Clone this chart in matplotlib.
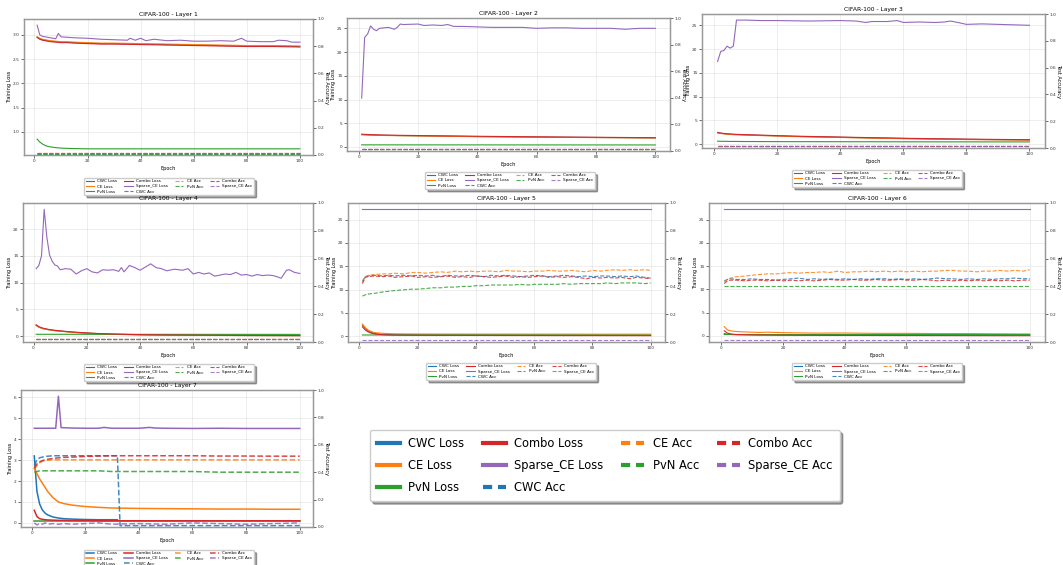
import matplotlib.pyplot as plt
from matplotlib.lines import Line2D

plt.rcParams['font.family'] = ['Liberation Sans Narrow', 'DejaVu Sans']

methods = ['CWC', 'CE', 'PvN', 'Combo', 'Sparse_CE']
colors = ['tab:blue', 'tab:orange', 'tab:green', 'tab:red', 'tab:purple']

ep = [1, 2, 3, 4, 5, 6, 8, 10, 12, 15, 20, 25, 30, 40, 50, 60, 70, 80, 90, 100]
ep_ends = [1, 100]
ep_acc = [1, 2, 3, 5, 8, 10, 12, 15, 18, 20, 23, 25, 28, 30, 33, 35, 38, 40, 43, 45, 48,
          50, 53, 55, 58, 60, 63, 65, 68, 70, 73, 75, 78, 80, 83, 85, 88, 90, 93, 95, 98, 100]

#%% Layer 1
l1_cwc_loss = [2.95, 2.92, 2.90, 2.89, 2.88, 2.87, 2.86, 2.85, 2.85, 2.84, 2.83, 2.82, 2.82, 2.81, 2.80, 2.79, 2.78, 2.77, 2.77, 2.76]
l1_ce_loss = [2.96, 2.93, 2.91, 2.90, 2.89, 2.88, 2.87, 2.86, 2.86, 2.85, 2.84, 2.83, 2.83, 2.82, 2.81, 2.80, 2.79, 2.78, 2.78, 2.77]
l1_pvn_loss = [0.85, 0.79, 0.75, 0.72, 0.70, 0.69, 0.675, 0.665, 0.66, 0.655, 0.65, 0.65, 0.65, 0.65, 0.65, 0.65, 0.65, 0.65, 0.65, 0.65]
l1_combo_loss = [2.95, 2.91, 2.89, 2.88, 2.87, 2.86, 2.85, 2.84, 2.84, 2.83, 2.82, 2.81, 2.81, 2.80, 2.79, 2.78, 2.77, 2.76, 2.76, 2.75]
l1_sparse_ep = [1, 2, 3, 5, 7, 8, 9, 10, 15, 20, 25, 30, 35, 36, 38, 40, 42, 45, 50, 55, 60, 65, 70, 75, 78, 80, 85, 90, 92, 95, 97, 100]
l1_sparse_loss = [3.20, 3.00, 2.97, 2.95, 2.93, 2.92, 3.03, 2.96, 2.94, 2.93, 2.91, 2.90, 2.89, 2.93, 2.89, 2.93, 2.88, 2.91, 2.88, 2.89,
                  2.87, 2.87, 2.88, 2.87, 2.93, 2.87, 2.86, 2.86, 2.89, 2.88, 2.85, 2.85]
l1_acc_levels = [0.010, 0.012, 0.011, 0.014, 0.012]

#%% Layer 2
l2_cwc_loss = [2.62, 2.58, 2.55, 2.53, 2.51, 2.49, 2.46, 2.44, 2.42, 2.39, 2.35, 2.31, 2.27, 2.20, 2.14, 2.09, 2.04, 2.00, 1.96, 1.92]
l2_ce_loss = [2.60, 2.56, 2.53, 2.51, 2.49, 2.47, 2.44, 2.42, 2.40, 2.37, 2.33, 2.29, 2.25, 2.18, 2.12, 2.07, 2.02, 1.98, 1.94, 1.90]
l2_pvn_loss = [0.45, 0.43]
l2_combo_loss = [2.70, 2.66, 2.63, 2.60, 2.58, 2.56, 2.53, 2.50, 2.48, 2.45, 2.41, 2.37, 2.33, 2.26, 2.20, 2.14, 2.09, 2.05, 2.00, 1.96]
l2_sparse_ep = [1, 2, 3, 4, 5, 6, 7, 10, 12, 13, 14, 15, 20, 22, 25, 28, 30, 32, 35, 40, 45, 50, 55, 60, 65, 70, 75, 80, 85, 90, 92, 95, 100]
l2_sparse_loss = [10.3, 23.1, 23.8, 25.5, 24.8, 24.5, 25.0, 25.2, 24.8, 25.2, 25.9, 25.8, 25.9, 25.6, 25.7, 25.6, 25.8, 25.4, 25.4, 25.3,
                  25.2, 25.2, 25.2, 25.0, 25.1, 25.1, 25.0, 25.0, 25.0, 24.8, 24.9, 25.0, 25.0]
l2_acc_levels = [0.012, 0.015, 0.013, 0.016, 0.014]

#%% Layer 3
l3_cwc_loss = [2.40, 2.27, 2.18, 2.12, 2.07, 2.02, 1.97, 1.92, 1.88, 1.82, 1.72, 1.62, 1.55, 1.42, 1.29, 1.17, 1.07, 0.99, 0.92, 0.87]
l3_ce_loss = [2.35, 2.22, 2.14, 2.08, 2.03, 1.98, 1.93, 1.88, 1.84, 1.78, 1.68, 1.58, 1.51, 1.38, 1.25, 1.13, 1.03, 0.95, 0.88, 0.83]
l3_pvn_loss = [0.60, 0.58, 0.57, 0.56, 0.55, 0.55, 0.54, 0.53, 0.53, 0.52, 0.51, 0.50, 0.50, 0.49, 0.48, 0.47, 0.46, 0.46, 0.45, 0.45]
l3_combo_loss = [2.45, 2.32, 2.23, 2.17, 2.12, 2.07, 2.02, 1.97, 1.93, 1.87, 1.77, 1.67, 1.60, 1.47, 1.34, 1.22, 1.12, 1.04, 0.97, 0.92]
l3_sparse_ep = [1, 2, 3, 4, 5, 6, 7, 10, 15, 20, 30, 40, 45, 48, 50, 55, 58, 60, 65, 70, 73, 75, 78, 80, 85, 90, 95, 100]
l3_sparse_loss = [17.4, 19.5, 19.7, 20.6, 20.2, 20.6, 26.1, 26.1, 26.0, 26.0, 25.9, 26.0, 25.9, 25.6, 25.8, 25.8, 26.0, 25.6, 25.7, 25.6,
                  25.7, 25.9, 25.5, 25.2, 25.3, 25.2, 25.1, 25.0]
l3_acc_levels = [0.012, 0.014, 0.012, 0.015, 0.013]

#%% Layer 4
l4_cwc_loss = [2.00, 1.68, 1.48, 1.35, 1.25, 1.16, 1.02, 0.92, 0.83, 0.70, 0.54, 0.42, 0.33, 0.23, 0.17, 0.13, 0.11, 0.09, 0.08, 0.07]
l4_ce_loss = [1.95, 1.64, 1.45, 1.32, 1.22, 1.13, 0.99, 0.89, 0.80, 0.67, 0.51, 0.39, 0.31, 0.21, 0.15, 0.12, 0.10, 0.08, 0.07, 0.06]
l4_pvn_loss = [0.32, 0.30]
l4_combo_loss = [2.10, 1.75, 1.55, 1.41, 1.30, 1.21, 1.07, 0.96, 0.87, 0.74, 0.58, 0.45, 0.36, 0.25, 0.19, 0.15, 0.12, 0.10, 0.09, 0.08]
l4_sparse_ep = [1, 2, 3, 4, 5, 6, 7, 8, 9, 10, 12, 14, 16, 18, 20, 22, 24, 26, 28, 30, 32, 33, 34, 36, 38, 40, 42, 44, 46, 48,
                50, 53, 56, 58, 60, 62, 64, 66, 68, 70, 72, 74, 76, 78, 80, 82, 84, 86, 88, 90, 92, 93, 95, 96, 98, 100]
l4_sparse_loss = [12.6, 13.2, 15.0, 23.7, 18.5, 15.2, 14.0, 13.3, 13.1, 12.4, 12.6, 12.5, 11.6, 12.2, 12.6, 12.0, 11.8, 12.4, 12.3, 12.4,
                  12.1, 12.8, 12.0, 13.2, 12.8, 12.3, 12.9, 13.5, 12.8, 12.6, 12.2, 12.5, 12.3, 12.6, 11.6, 11.9, 11.6, 11.8, 11.2, 11.4,
                  11.6, 11.5, 11.9, 11.4, 11.5, 11.2, 11.5, 11.3, 11.4, 11.3, 11.0, 10.8, 12.3, 12.4, 11.9, 11.7]
l4_acc_levels = [0.018, 0.022, 0.020, 0.024, 0.021]

#%% Layer 5
l5_cwc_loss = [2.4, 1.6, 1.1, 0.8, 0.6, 0.5, 0.4, 0.35, 0.32, 0.30, 0.28, 0.27, 0.26, 0.25, 0.24, 0.23, 0.22, 0.21, 0.20, 0.20]
l5_ce_loss = [2.6, 1.8, 1.3, 1.0, 0.8, 0.7, 0.6, 0.55, 0.50, 0.48, 0.46, 0.45, 0.45, 0.44, 0.44, 0.43, 0.43, 0.42, 0.42, 0.42]
l5_pvn_loss = [0.25, 0.20]
l5_combo_loss = [2.0, 1.3, 0.9, 0.65, 0.5, 0.4, 0.3, 0.25, 0.22, 0.20, 0.18, 0.17, 0.16, 0.15, 0.14, 0.13, 0.12, 0.12, 0.11, 0.10]
l5_sparse_loss = [27.2, 27.2]
l5_cwc_acc = [0.44, 0.47, 0.475, 0.48, 0.475, 0.48, 0.475, 0.48, 0.475, 0.48, 0.475, 0.48, 0.47, 0.48, 0.475, 0.475, 0.48, 0.475, 0.47, 0.48, 0.475,
              0.48, 0.475, 0.47, 0.475, 0.48, 0.475, 0.47, 0.475, 0.48, 0.475, 0.47, 0.475, 0.47, 0.475, 0.475, 0.47, 0.475, 0.47, 0.475, 0.465, 0.46]
l5_ce_acc = [0.43, 0.47, 0.48, 0.485, 0.49, 0.49, 0.495, 0.49, 0.50, 0.50, 0.495, 0.50, 0.505, 0.50, 0.51, 0.505, 0.51, 0.505, 0.51, 0.51, 0.505,
             0.515, 0.51, 0.51, 0.505, 0.51, 0.51, 0.515, 0.51, 0.51, 0.515, 0.51, 0.505, 0.515, 0.51, 0.515, 0.52, 0.515, 0.52, 0.515, 0.52, 0.515]
l5_pvn_acc = [0.33, 0.34, 0.345, 0.35, 0.36, 0.365, 0.37, 0.375, 0.38, 0.38, 0.385, 0.39, 0.39, 0.395, 0.395, 0.40, 0.40, 0.405, 0.405, 0.41, 0.41,
              0.41, 0.41, 0.415, 0.41, 0.415, 0.415, 0.415, 0.415, 0.42, 0.415, 0.42, 0.42, 0.42, 0.42, 0.425, 0.42, 0.425, 0.425, 0.425, 0.42, 0.425]
l5_combo_acc = [0.42, 0.465, 0.47, 0.475, 0.47, 0.475, 0.465, 0.47, 0.475, 0.465, 0.47, 0.465, 0.47, 0.475, 0.465, 0.47, 0.465, 0.475, 0.47, 0.465, 0.47,
                0.475, 0.465, 0.47, 0.465, 0.47, 0.475, 0.465, 0.47, 0.465, 0.47, 0.465, 0.455, 0.465, 0.46, 0.465, 0.46, 0.465, 0.455, 0.465, 0.46, 0.455]
l5_sparse_acc = [0.015, 0.015]

#%% Layer 6
l6_cwc_loss = [0.5, 0.35, 0.30, 0.28, 0.26, 0.25, 0.24, 0.23, 0.22, 0.22, 0.21, 0.21, 0.20, 0.20, 0.20, 0.20, 0.20, 0.20, 0.20, 0.20]
l6_ce_loss = [2.0, 1.3, 1.1, 1.0, 0.95, 0.9, 0.85, 0.8, 0.75, 0.8, 0.7, 0.65, 0.6, 0.62, 0.55, 0.55, 0.5, 0.5, 0.45, 0.42]
l6_pvn_loss = [0.30, 0.28]
l6_combo_loss = [1.1, 0.6, 0.45, 0.35, 0.30, 0.28, 0.25, 0.22, 0.20, 0.18, 0.15, 0.13, 0.12, 0.10, 0.09, 0.08, 0.07, 0.06, 0.05, 0.05]
l6_sparse_loss = [27.2, 27.2]
l6_cwc_acc = [0.44, 0.45, 0.455, 0.45, 0.45, 0.455, 0.45, 0.45, 0.445, 0.45, 0.455, 0.46, 0.45, 0.455, 0.45, 0.455, 0.45, 0.455, 0.45, 0.455, 0.45,
              0.455, 0.455, 0.45, 0.455, 0.45, 0.455, 0.45, 0.455, 0.46, 0.455, 0.455, 0.45, 0.455, 0.45, 0.455, 0.45, 0.455, 0.455, 0.46, 0.455, 0.455]
l6_ce_acc = [0.43, 0.45, 0.46, 0.47, 0.475, 0.48, 0.485, 0.49, 0.49, 0.495, 0.50, 0.495, 0.50, 0.50, 0.505, 0.50, 0.51, 0.50, 0.505, 0.505, 0.51,
             0.505, 0.51, 0.505, 0.51, 0.505, 0.51, 0.505, 0.51, 0.51, 0.515, 0.515, 0.51, 0.51, 0.505, 0.51, 0.51, 0.515, 0.51, 0.515, 0.51, 0.52]
l6_pvn_acc = [0.40, 0.40]
l6_combo_acc = [0.42, 0.44, 0.445, 0.445, 0.44, 0.445, 0.445, 0.44, 0.445, 0.44, 0.445, 0.44, 0.445, 0.44, 0.445, 0.45, 0.445, 0.445, 0.45, 0.445, 0.445,
                0.45, 0.445, 0.445, 0.45, 0.445, 0.445, 0.45, 0.445, 0.44, 0.445, 0.44, 0.445, 0.44, 0.445, 0.44, 0.445, 0.44, 0.445, 0.44, 0.445, 0.445]
l6_sparse_acc = [0.015, 0.015]

#%% Layer 7
l7_cwc_ep = [1, 2, 3, 4, 5, 6, 8, 10, 12, 15, 20, 25, 30, 32]
l7_cwc_loss = [3.2, 1.5, 0.9, 0.62, 0.47, 0.38, 0.28, 0.23, 0.20, 0.18, 0.16, 0.15, 0.15, 0.15]
l7_ce_loss = [2.6, 2.35, 2.1, 1.9, 1.7, 1.5, 1.2, 1.0, 0.92, 0.85, 0.78, 0.74, 0.71, 0.69, 0.68, 0.67, 0.66, 0.66, 0.65, 0.65]
l7_pvn_loss = [0.10, 0.10]
l7_combo_loss = [0.6, 0.3, 0.2, 0.17, 0.15, 0.14, 0.13, 0.12, 0.12, 0.11, 0.11, 0.10, 0.10, 0.10, 0.10, 0.10, 0.10, 0.10, 0.10, 0.10]
l7_sparse_ep = [1, 5, 9, 10, 11, 15, 20, 25, 27, 30, 40, 44, 46, 50, 60, 70, 80, 90, 100]
l7_sparse_loss = [4.52, 4.52, 4.52, 6.05, 4.55, 4.53, 4.52, 4.52, 4.56, 4.52, 4.52, 4.56, 4.53, 4.52, 4.51, 4.52, 4.51, 4.51, 4.51]
l7_cwc_acc_ep = [1, 2, 3, 5, 8, 10, 15, 20, 25, 30, 32, 33, 40, 50, 60, 70, 80, 90, 100]
l7_cwc_acc = [0.45, 0.49, 0.505, 0.515, 0.52, 0.52, 0.52, 0.52, 0.52, 0.52, 0.52, 0.01, 0.01, 0.01, 0.01, 0.01, 0.01, 0.01, 0.01]
l7_ce_acc = [0.42, 0.45, 0.47, 0.48, 0.485, 0.487, 0.49, 0.49, 0.49, 0.49, 0.49, 0.49, 0.49, 0.49, 0.49, 0.49, 0.49, 0.49, 0.49, 0.49]
l7_pvn_acc = [0.40, 0.405, 0.41, 0.41, 0.41, 0.41, 0.41, 0.41, 0.41, 0.41, 0.41, 0.41, 0.405, 0.405, 0.405, 0.405, 0.40, 0.40, 0.40, 0.40]
l7_combo_acc = [0.43, 0.46, 0.475, 0.485, 0.49, 0.495, 0.50, 0.505, 0.508, 0.51, 0.515, 0.518, 0.52, 0.52, 0.52, 0.52, 0.518, 0.518, 0.517, 0.517]
l7_sparse_acc = [0.03, 0.015, 0.025, 0.02, 0.03, 0.02, 0.025, 0.02, 0.025, 0.02, 0.025, 0.03, 0.02, 0.025, 0.02, 0.03, 0.025, 0.02, 0.025, 0.03]


W, H = 1063, 565
fig = plt.figure(figsize=(W / 100, H / 100), dpi=100)


def px_rect(x0, y0, x1, y1):
    return [x0 / W, 1 - y1 / H, (x1 - x0) / W, (y1 - y0) / H]


def draw_layer(rect, n, losses, accs, leg_xy, lw=0.8):
    ax = fig.add_axes(rect)
    ax2 = ax.twinx()
    for (x, y), c, m in zip(losses, colors, methods):
        ax.plot(x, y, color=c, lw=lw, label=m + ' Loss')
    for (x, y), c, m in zip(accs, colors, methods):
        ax2.plot(x, y, color=c, lw=lw, ls='--', alpha=0.85, label=m + ' Acc')
    ax2.set_ylim(0, 1)
    ax.set_title(f'CIFAR-100 - Layer {n}', fontsize=4.3, pad=2)
    ax.set_xlabel('Epoch', fontsize=3.6, labelpad=1.5)
    ax.set_ylabel('Training Loss', fontsize=3.6, labelpad=0.5)
    ax2.set_ylabel('Test Accuracy', fontsize=3.6, rotation=270, labelpad=3.3)
    ax.grid(True, alpha=0.3, lw=0.5)
    for a in (ax, ax2):
        a.tick_params(labelsize=3.1, length=2, width=0.5, pad=1.2, colors='#333333')
        for s in a.spines.values():
            s.set_color('#999999')
            s.set_linewidth(0.9)
    h1, lab1 = ax.get_legend_handles_labels()
    h2, lab2 = ax2.get_legend_handles_labels()
    ax2.legend(h1 + h2, lab1 + lab2, loc='upper center', bbox_to_anchor=leg_xy,
               bbox_transform=fig.transFigure, ncol=4, fontsize=3.0, shadow=True,
               borderaxespad=0, handlelength=2.0, columnspacing=1.7, labelspacing=0.25,
               borderpad=0.35)
    return ax


def flat(levels):
    return [(ep_ends, [v, v]) for v in levels]


draw_layer(px_rect(24, 19, 313, 155), 1,
           [(ep, l1_cwc_loss), (ep, l1_ce_loss), (ep, l1_pvn_loss), (ep, l1_combo_loss), (l1_sparse_ep, l1_sparse_loss)],
           flat(l1_acc_levels), (169 / W, 1 - 178 / H))
draw_layer(px_rect(347, 18, 670, 151), 2,
           [(ep, l2_cwc_loss), (ep, l2_ce_loss), (ep_ends, l2_pvn_loss), (ep, l2_combo_loss), (l2_sparse_ep, l2_sparse_loss)],
           flat(l2_acc_levels), (510 / W, 1 - 172 / H))
draw_layer(px_rect(702, 14, 1045, 148), 3,
           [(ep, l3_cwc_loss), (ep, l3_ce_loss), (ep, l3_pvn_loss), (ep, l3_combo_loss), (l3_sparse_ep, l3_sparse_loss)],
           flat(l3_acc_levels), (877 / W, 1 - 170 / H))
draw_layer(px_rect(23, 203, 313, 342), 4,
           [(ep, l4_cwc_loss), (ep, l4_ce_loss), (ep_ends, l4_pvn_loss), (ep, l4_combo_loss), (l4_sparse_ep, l4_sparse_loss)],
           flat(l4_acc_levels), (169 / W, 1 - 364 / H))
draw_layer(px_rect(348, 203, 665, 342), 5,
           [(ep, l5_cwc_loss), (ep, l5_ce_loss), (ep_ends, l5_pvn_loss), (ep, l5_combo_loss), (ep_ends, l5_sparse_loss)],
           [(ep_acc, l5_cwc_acc), (ep_acc, l5_ce_acc), (ep_acc, l5_pvn_acc), (ep_acc, l5_combo_acc), (ep_ends, l5_sparse_acc)],
           (511 / W, 1 - 363 / H))
draw_layer(px_rect(709, 203, 1045, 342), 6,
           [(ep, l6_cwc_loss), (ep, l6_ce_loss), (ep_ends, l6_pvn_loss), (ep, l6_combo_loss), (ep_ends, l6_sparse_loss)],
           [(ep_acc, l6_cwc_acc), (ep_acc, l6_ce_acc), (ep_ends, l6_pvn_acc), (ep_acc, l6_combo_acc), (ep_ends, l6_sparse_acc)],
           (877 / W, 1 - 363 / H))
draw_layer(px_rect(21, 390, 313, 527), 7,
           [(l7_cwc_ep, l7_cwc_loss), (ep, l7_ce_loss), (ep_ends, l7_pvn_loss), (ep, l7_combo_loss), (l7_sparse_ep, l7_sparse_loss)],
           [(l7_cwc_acc_ep, l7_cwc_acc), (ep, l7_ce_acc), (ep, l7_pvn_acc), (ep, l7_combo_acc), (ep, l7_sparse_acc)],
           (169 / W, 1 - 550 / H), lw=1.1)

# big shared legend
handles = [Line2D([], [], color=c, lw=3) for c in colors] + \
          [Line2D([], [], color=c, lw=3, ls='--', dashes=(2.2, 1.4)) for c in colors]
labels = [m + ' Loss' for m in methods] + [m + ' Acc' for m in methods]
fig.legend(handles, labels, loc='upper left', bbox_to_anchor=(370 / W, 1 - 430 / H),
           ncol=4, fontsize=8.3, shadow=True, borderaxespad=0, handlelength=2.0,
           handletextpad=0.7, columnspacing=1.6, labelspacing=0.8, borderpad=0.6)

fig.savefig('out.png', dpi=100)
